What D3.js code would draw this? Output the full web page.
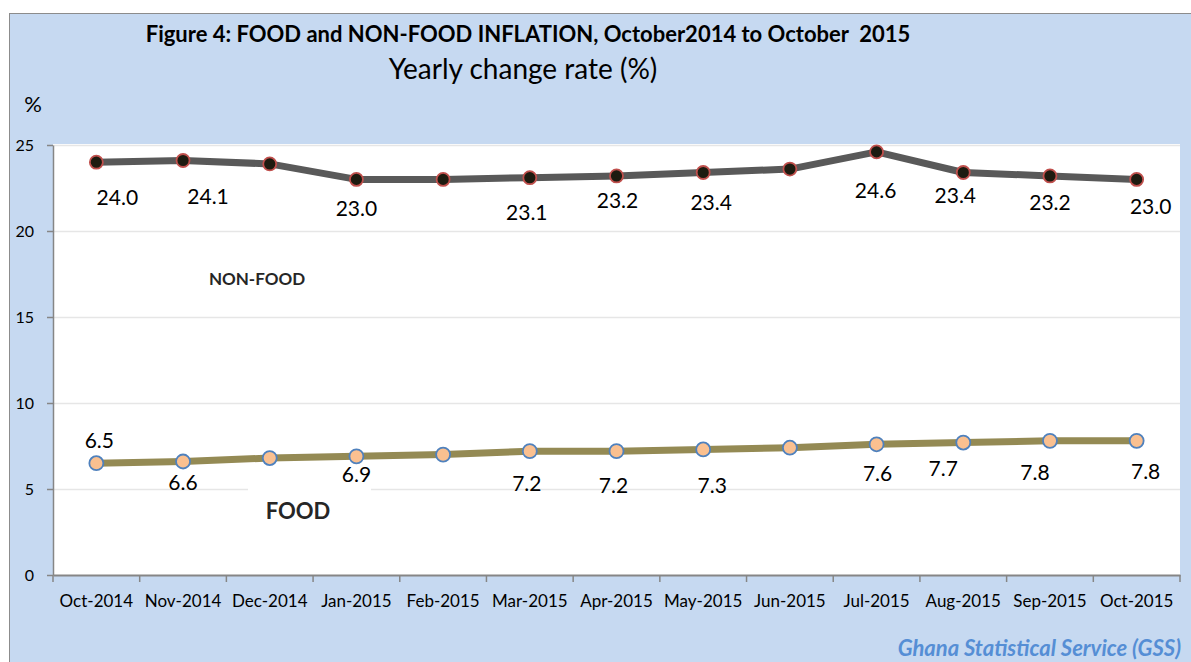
<!DOCTYPE html>
<html>
<head>
<meta charset="utf-8">
<script src="https://cdn.jsdelivr.net/npm/d3@7"></script>
<style>
  body { margin: 0; background: #fff; }
  svg { display: block; font-family: Lato, "Open Sans", sans-serif; }
</style>
</head>
<body>
<script>
// data
const categories = ['Oct-2014','Nov-2014','Dec-2014','Jan-2015','Feb-2015','Mar-2015','Apr-2015',
                    'May-2015','Jun-2015','Jul-2015','Aug-2015','Sep-2015','Oct-2015'];
const nonFood = [24.0, 24.1, 23.9, 23.0, 23.0, 23.1, 23.2, 23.4, 23.6, 24.6, 23.4, 23.2, 23.0];
const food    = [6.5, 6.6, 6.8, 6.9, 7.0, 7.2, 7.2, 7.3, 7.4, 7.6, 7.7, 7.8, 7.8];
const yTicks = [0, 5, 10, 15, 20, 25];

// label offsets from the point (null = no label shown)
const nonFoodLabelOff = [[21,35],[25,36],null,[0,29],null,[-3,35],[1,24],[8,30],null,[-1,39],[-8,23],[0,26],[14,27]];
const foodLabelOff    = [[3,-23],[0,21],null,[0,18],null,[-3,32],[-3,34],[9,36],null,[1,29],[-20,26],[-15,32],[9,31]];

const W = 1191, H = 662;
const margin = {top:145, right:11, bottom:87, left:53};
const innerW = W - margin.left - margin.right;
const innerH = H - margin.top - margin.bottom;

const svg = d3.select('body').append('svg').attr('width', W).attr('height', H);

// chart area background
svg.append('rect').attr('x', 9.5).attr('y', 13.5).attr('width', W).attr('height', H)
  .attr('fill', '#c6d9f1').attr('stroke', '#8c8c8c').attr('stroke-width', 1);

const x = d3.scaleBand().domain(categories).range([0, innerW]);
const y = d3.scaleLinear().domain([0, 25]).range([innerH, 0]);

const g = svg.append('g').attr('transform', `translate(${margin.left},${margin.top})`);

// plot area
g.append('rect').attr('x', 0).attr('y', -1).attr('width', innerW).attr('height', innerH + 1).attr('fill', '#fff');

// gridlines
g.selectAll('.grid').data(yTicks.filter(d => d > 0)).enter().append('line')
  .attr('x1', 0).attr('x2', innerW)
  .attr('y1', d => y(d) + 0.5).attr('y2', d => y(d) + 0.5)
  .attr('stroke', '#e6e6e6').attr('stroke-width', 1.5);

// white box behind the FOOD label
g.append('rect').attr('x', 195).attr('y', y(5) - 3).attr('width', 123).attr('height', 44).attr('fill', '#fff');

// y axis
const yAxisG = g.append('g').call(d3.axisLeft(y).tickValues(yTicks).tickSize(6).tickSizeOuter(0).tickPadding(13));
yAxisG.select('.domain').attr('stroke', '#868686').attr('stroke-width', 1.5);
yAxisG.selectAll('.tick line').attr('stroke', '#868686').attr('stroke-width', 1.5);
yAxisG.selectAll('.tick text').attr('font-size', 16).attr('fill', '#000').attr('font-family', 'Lato');

// x axis
const xAxisG = g.append('g').attr('transform', `translate(0,${innerH})`)
  .call(d3.axisBottom(x).tickSize(0).tickSizeOuter(0).tickPadding(20));
xAxisG.select('.domain').attr('stroke', '#868686').attr('stroke-width', 2);
xAxisG.selectAll('.tick text').attr('font-size', 17).attr('fill', '#000').attr('font-family', 'Lato');
xAxisG.selectAll('.bt').data(categories.map(c => x(c)).concat([innerW])).enter().append('line')
  .attr('x1', d => d).attr('x2', d => d).attr('y1', 0).attr('y2', 7)
  .attr('stroke', '#868686').attr('stroke-width', 1.5);

const line = d3.line().x((d, i) => x(categories[i]) + x.bandwidth() / 2).y(d => y(d));

// series
function drawSeries(vals, lineColor, dotFill, dotStroke, r, offs) {
  g.append('path').datum(vals).attr('d', line).attr('fill', 'none')
    .attr('stroke', lineColor).attr('stroke-width', 7).attr('stroke-linejoin', 'round');
  g.selectAll(null).data(vals).enter().append('circle')
    .attr('cx', (d, i) => x(categories[i]) + x.bandwidth() / 2)
    .attr('cy', d => y(d)).attr('r', r)
    .attr('fill', dotFill).attr('stroke', dotStroke).attr('stroke-width', 1.8);
  g.selectAll(null).data(vals.map((v, i) => ({v, i, o: offs[i]})).filter(d => d.o)).enter().append('text')
    .attr('x', d => x(categories[d.i]) + x.bandwidth() / 2 + d.o[0])
    .attr('y', d => y(d.v) + d.o[1])
    .attr('dy', '0.36em').attr('text-anchor', 'middle')
    .attr('font-size', 21).attr('fill', '#000')
    .text(d => d.v.toFixed(1));
}
drawSeries(nonFood, '#595959', '#1d1b10', '#c0504d', 6.5, nonFoodLabelOff);
drawSeries(food, '#948a54', '#fac090', '#4f81bd', 7, foodLabelOff);

// series names
svg.append('text').attr('x', 257).attr('y', 279).attr('dy', '0.36em').attr('text-anchor', 'middle')
  .attr('font-size', 17).attr('font-weight', 'bold').attr('fill', '#262626').text('NON-FOOD');
svg.append('text').attr('x', 298).attr('y', 511).attr('dy', '0.36em').attr('text-anchor', 'middle')
  .attr('font-size', 22).attr('font-weight', 'bold').attr('fill', '#262626').text('FOOD');

// titles
svg.append('text').attr('x', 528).attr('y', 34).attr('dy', '0.36em').attr('text-anchor', 'middle')
  .attr('font-size', 22).attr('font-weight', 'bold').attr('fill', '#000')
  .text('Figure 4: FOOD and NON-FOOD INFLATION, October2014 to October  2015').style('white-space', 'pre');
svg.append('text').attr('x', 523).attr('y', 69).attr('dy', '0.36em').attr('text-anchor', 'middle')
  .attr('font-size', 28).attr('fill', '#000').text('Yearly change rate (%)');
svg.append('text').attr('x', 33).attr('y', 104).attr('dy', '0.36em').attr('text-anchor', 'middle')
  .attr('font-size', 22).attr('fill', '#000').text('%');

// source
svg.append('text').attr('x', 1181).attr('y', 648).attr('dy', '0.36em').attr('text-anchor', 'end')
  .attr('font-size', 22).attr('font-weight', 'bold').attr('font-style', 'italic')
  .attr('fill', '#558ed5').text('Ghana Statistical Service (GSS)');
</script>
</body>
</html>
